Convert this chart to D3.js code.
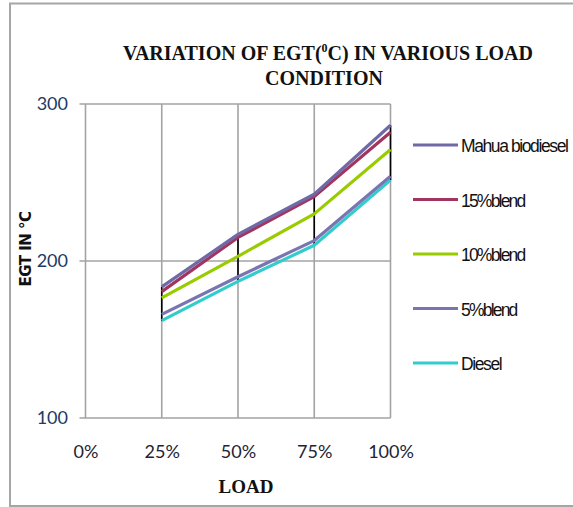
<!DOCTYPE html>
<html>
<head>
<meta charset="utf-8">
<script src="https://cdn.jsdelivr.net/npm/d3@7/dist/d3.min.js"></script>
<style>
  html, body { margin: 0; padding: 0; background: #fff; }
  svg { display: block; }
</style>
</head>
<body>
<svg id="chart" width="573" height="507"></svg>
<script>
// ---- data ----
const categories = ["0%", "25%", "50%", "75%", "100%"];
const categoryValues = [0, 25, 50, 75, 100];
const loads = [25, 50, 75, 100];
const yTicks = [100, 200, 300];
const seriesNames = ["Mahua biodiesel", "15%blend", "10%blend", "5%blend", "Diesel"];
const mahua   = [183.5, 217, 242.5, 286.5];
const blend15 = [180.5, 215, 241, 282];
const blend10 = [176.5, 203, 230, 271];
const blend5  = [166, 190, 213, 254];
const diesel  = [162, 187, 210, 251.5];
const seriesColors = ["#6f6aa6", "#a2355f", "#99cc00", "#7a74b0", "#33cccc"];

const seriesValues = [mahua, blend15, blend10, blend5, diesel];
const series = seriesNames.map((n, i) => ({ name: n, color: seriesColors[i], values: seriesValues[i] }));

const svg = d3.select("#chart");

// outer frame
svg.append("rect")
  .attr("x", 10).attr("y", 3.5).attr("width", 620).attr("height", 502.5)
  .attr("fill", "none").attr("stroke", "#a6a6a6").attr("stroke-width", 2);

const x = d3.scaleLinear().domain([0, 100]).range([85.5, 390.5]);
const y = d3.scaleLinear().domain([100, 300]).range([418, 104]);

// gridlines
const grid = svg.append("g").attr("stroke", "#a3a3a3").attr("stroke-width", 1.6);
grid.selectAll("line.h").data(yTicks).join("line")
  .attr("x1", x(0) - 6).attr("x2", x(100))
  .attr("y1", d => y(d)).attr("y2", d => y(d));
grid.selectAll("line.v").data(categoryValues).join("line")
  .attr("x1", d => x(d)).attr("x2", d => x(d))
  .attr("y1", y(300)).attr("y2", y(100));

// y axis labels
const yAxis = d3.axisLeft(y).tickValues(yTicks).tickSize(0).tickPadding(17.5).tickFormat(d3.format("d"));
const gy = svg.append("g").attr("transform", `translate(${x(0)},0)`).call(yAxis);
gy.select(".domain").remove();
gy.selectAll("text")
  .attr("font-family", "Lato, 'Open Sans', sans-serif")
  .attr("font-size", 18).attr("fill", "#203a66");

// x axis labels
const xAxis = d3.axisBottom(x).tickValues(categoryValues).tickSize(0).tickPadding(0)
  .tickFormat((d, i) => categories[i]);
const gx = svg.append("g").attr("transform", `translate(0,${y(100)})`).call(xAxis);
gx.select(".domain").remove();
gx.selectAll("text")
  .attr("dy", null).attr("y", 40)
  .attr("font-family", "Lato, 'Open Sans', sans-serif")
  .attr("font-size", 18).attr("fill", "#1e2433");

// high-low lines
svg.append("g").selectAll("line").data(loads).join("line")
  .attr("x1", d => x(d)).attr("x2", d => x(d))
  .attr("y1", (d, i) => y(d3.max(seriesValues, s => s[i])))
  .attr("y2", (d, i) => y(d3.min(seriesValues, s => s[i])))
  .attr("stroke", "#000").attr("stroke-width", 1.6);

// series lines (draw back-to-front so Mahua is on top)
const line = d3.line().x((d, i) => x(loads[i])).y(d => y(d));
svg.append("g").selectAll("path").data(series.slice().reverse()).join("path")
  .attr("d", d => line(d.values))
  .attr("fill", "none").attr("stroke", d => d.color)
  .attr("stroke-width", 3.2).attr("stroke-linejoin", "round");

// legend
const legend = svg.append("g");
const legY = d3.scalePoint().domain(seriesNames).range([145, 363]);
const lg = legend.selectAll("g").data(series).join("g")
  .attr("transform", d => `translate(0,${legY(d.name)})`);
lg.append("line").attr("x1", 413).attr("x2", 458).attr("y1", 0).attr("y2", 0)
  .attr("stroke", d => d.color).attr("stroke-width", 3);
lg.append("text").attr("x", 461).attr("y", 1).attr("dominant-baseline", "central")
  .attr("font-family", "'Liberation Sans', Arial, sans-serif").attr("font-size", 17.5)
  .attr("letter-spacing", d => /%/.test(d.name) ? "-1.8px" : "-1.4px").attr("fill", "#111")
  .text(d => d.name);

// title
const title = svg.append("text").attr("text-anchor", "middle")
  .attr("font-family", "'Liberation Serif', 'Times New Roman', serif")
  .attr("font-weight", "bold").attr("font-size", 20).attr("fill", "#111");
const t1 = title.append("tspan").attr("x", 328).attr("y", 60);
t1.append("tspan").text("VARIATION OF EGT(");
t1.append("tspan").attr("font-size", 12).attr("dy", -8).text("0");
t1.append("tspan").attr("dy", 8).text("C) IN VARIOUS LOAD");
title.append("tspan").attr("x", 324).attr("y", 85).text("CONDITION");

// axis titles
svg.append("text").attr("x", 246).attr("y", 493).attr("text-anchor", "middle")
  .attr("font-family", "'Liberation Serif', 'Times New Roman', serif")
  .attr("font-weight", "bold").attr("font-size", 19).attr("fill", "#111")
  .text("LOAD");

svg.append("text").attr("transform", "translate(31,249) rotate(-90)")
  .attr("text-anchor", "middle")
  .attr("font-family", "'DejaVu Sans', 'Liberation Sans', sans-serif")
  .attr("font-weight", "bold").attr("font-size", 15).attr("letter-spacing", "-0.5px").attr("fill", "#111")
  .text("EGT IN °C");
</script>
</body>
</html>
